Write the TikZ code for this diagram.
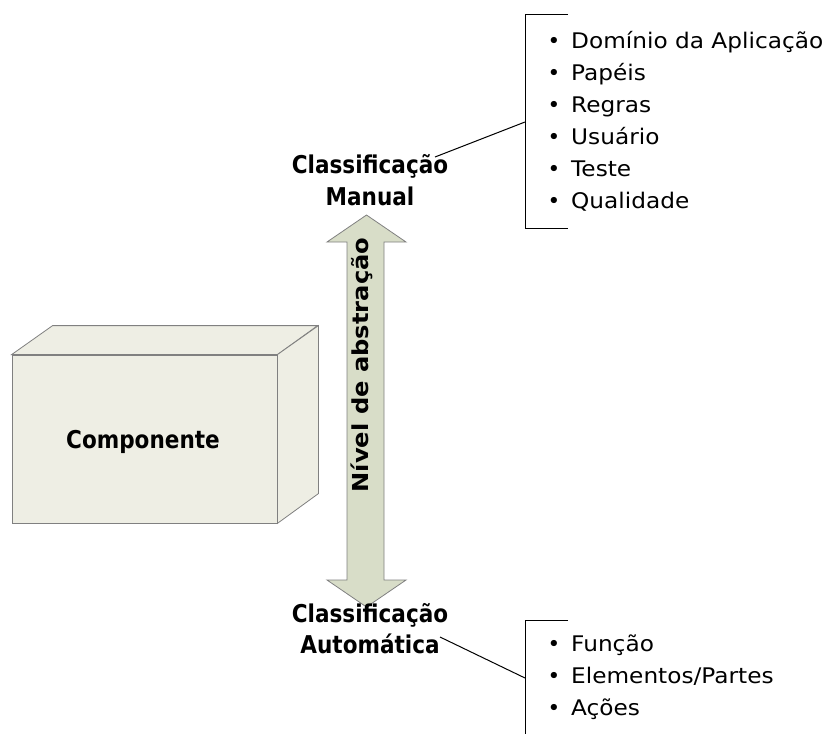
\documentclass[tikz,border=0pt]{standalone}
\usepackage{fontspec}
\setmainfont{DejaVu Sans}
\newfontfamily\itemfont{DejaVu Sans}[FakeStretch=1.08]
\newfontfamily\headfont{DejaVu Sans}[FakeStretch=0.88]
\newfontfamily\axisfont{DejaVu Sans}[FakeStretch=1.1]
\begin{document}
\begin{tikzpicture}[x=1pt,y=-1pt,
  facestyle/.style={draw=black!50, line width=0.8pt, fill=boxfill},
  label/.style={font=\headfont\fontsize{24.5}{30}\selectfont\bfseries, anchor=base, inner sep=0pt},
  item/.style={font=\itemfont\fontsize{21.5}{30}\selectfont, anchor=base west, inner sep=0pt},
  bullet/.style={font=\fontsize{21.5}{30}\selectfont, anchor=base, inner sep=0pt},
  bracket/.style={draw=black, line width=1pt},
  link/.style={draw=black, line width=1pt}]
\definecolor{boxfill}{RGB}{238,238,228}
\definecolor{arrowfill}{RGB}{216,221,200}
\useasboundingbox (0,0) rectangle (829,734);

% 3-D box: front face, top face and side face
\node[facestyle, minimum width=265pt, minimum height=168pt, inner sep=0pt] (comp) at (144.5,439) {};
\path[facestyle] (comp.north west) -- ++(41,-29) -- ++(265,0) -- (comp.north east) -- cycle;
\path[facestyle] (comp.north east) -- ++(41,-29) -- ++(0,168) -- (comp.south east) -- cycle;
\node[label] (comptext) at (143,448) {Componente};

% double-headed axis arrow
\path[draw=black!50, line width=0.8pt, fill=arrowfill]
  (366.5,215) -- (406,242) -- (384,242) -- (384,580) -- (406,580)
  -- (366.5,607) -- (327,580) -- (347,580) -- (347,242) -- (327,242) -- cycle;
\node[font=\axisfont\fontsize{22}{26}\selectfont\bfseries, anchor=base, inner sep=0pt, rotate=90]
  (axis) at (368,365) {Nível de abstração};

% classification labels
\node[label] (manual1) at (370,173) {Classificação};
\node[label] (manual2) at (370,205) {Manual};
\node[label] (auto1) at (370,622) {Classificação};
\node[label] (auto2) at (370,653) {Automática};

% upper bracket with its items
\coordinate (ut) at (525,14);
\coordinate (ub) at (525,228);
\coordinate (um) at (525,122);
\draw[bracket] (568,14) -- (ut) -- (ub) -- (568,228);
\foreach \t [count=\i] in {Domínio da Aplicação, Papéis, Regras, Usuário, Teste, Qualidade} {
  \node[bullet] (ub\i) at (554,48+32*\i-32) {•};
  \node[item] (ui\i) at (571,48+32*\i-32) {\t};
}
\coordinate (mend) at (435,157);
\draw[link] (mend) -- (um);

% lower bracket with its items
\coordinate (lt) at (525,620);
\coordinate (lb) at (525,734);
\coordinate (lm) at (525,678);
\draw[bracket] (568,620) -- (lt) -- (lb);
\foreach \t [count=\i] in {Função, Elementos/Partes, Ações} {
  \node[bullet] (lb\i) at (554,651+32*\i-32) {•};
  \node[item] (li\i) at (571,651+32*\i-32) {\t};
}
\coordinate (aend) at (440,637);
\draw[link] (aend) -- (lm);
\end{tikzpicture}
\end{document}
